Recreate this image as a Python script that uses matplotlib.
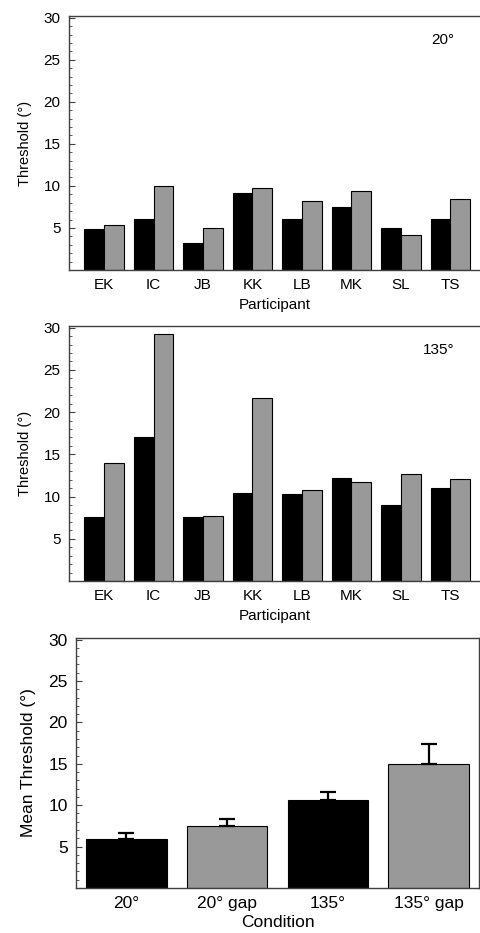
import matplotlib
matplotlib.use("Agg")
import matplotlib.pyplot as plt
from matplotlib.ticker import MultipleLocator, FixedLocator
import numpy as np

plt.rcParams['font.family'] = ['Liberation Sans', 'DejaVu Sans']

participants = ["EK", "IC", "JB", "KK", "LB", "MK", "SL", "TS"]
thr20 = [4.9, 6.1, 3.2, 9.1, 6.1, 7.5, 5.0, 6.1]
thr20_gap = [5.3, 9.95, 5.0, 9.7, 8.25, 9.35, 4.2, 8.45]
thr135 = [7.55, 17.1, 7.55, 10.45, 10.25, 12.2, 9.0, 11.0]
thr135_gap = [13.95, 29.3, 7.7, 21.7, 10.8, 11.75, 12.7, 12.1]

conditions = ["20°", "20° gap", "135°", "135° gap"]
mean_thr = [5.95, 7.45, 10.6, 14.95]
mean_err = [0.65, 0.9, 1.0, 2.45]

BLACK = "#000000"
GREY = "#999999"
SPINE = "#404040"

W, H = 480, 933
fig = plt.figure(figsize=(W / 100, H / 100), dpi=100)


def ax_px(left, top, right, bottom):
    return fig.add_axes([left / W, 1 - bottom / H, (right - left) / W, (bottom - top) / H])


def style_axes(ax, fs):
    ax.set_ylim(0, 30.2)
    ax.yaxis.set_major_locator(FixedLocator([5, 10, 15, 20, 25, 30]))
    ax.yaxis.set_minor_locator(MultipleLocator(1))
    ax.tick_params(axis='y', which='major', direction='in', length=4, width=0.8,
                   color=SPINE, labelsize=fs, pad=6)
    ax.tick_params(axis='y', which='minor', direction='in', length=2.5, width=0.6, color=SPINE)
    ax.tick_params(axis='x', which='both', length=0, labelsize=fs, pad=6)
    for s in ax.spines.values():
        s.set_color(SPINE)
        s.set_linewidth(1.0)


def participant_panel(ax, a, b, label):
    x = np.arange(len(participants))
    w = 0.4
    ax.bar(x - w / 2, a, width=w, color=BLACK, edgecolor='black', linewidth=0.8, zorder=2)
    ax.bar(x + w / 2, b, width=w, color=GREY, edgecolor='black', linewidth=0.8, zorder=2)
    ax.set_xlim(-0.71, 7.6)
    ax.set_xticks(x)
    ax.set_xticklabels(participants)
    style_axes(ax, 11)
    ax.spines['right'].set_visible(False)
    ax.set_ylabel("Threshold (°)", fontsize=10.5, labelpad=8.5)
    ax.set_xlabel("Participant", fontsize=11, labelpad=4)
    ax.text(0.937, 0.906, label, transform=ax.transAxes, ha='right', va='center', fontsize=11)


ax1 = ax_px(69, 16, 480, 270)
participant_panel(ax1, thr20, thr20_gap, "20°")

ax2 = ax_px(69, 326, 480, 581)
participant_panel(ax2, thr135, thr135_gap, "135°")

ax3 = ax_px(76, 638, 479, 888)
xc = np.arange(len(conditions))
colors = [BLACK, GREY, BLACK, GREY]
ax3.bar(xc, mean_thr, width=0.8, color=colors, edgecolor='black', linewidth=0.8, zorder=2)
ax3.errorbar(xc, mean_thr, yerr=[np.zeros(len(mean_err)), mean_err], fmt='none',
             ecolor='black', elinewidth=1.6, capsize=6, capthick=1.6, zorder=3)
ax3.set_xlim(-0.5, 3.5)
ax3.set_xticks(xc)
ax3.set_xticklabels(conditions)
style_axes(ax3, 12.5)
ax3.set_ylabel("Mean Threshold (°)", fontsize=12.5, labelpad=9)
ax3.set_xlabel("Condition", fontsize=12.5, labelpad=2.5)

fig.savefig("out.png", dpi=100)
